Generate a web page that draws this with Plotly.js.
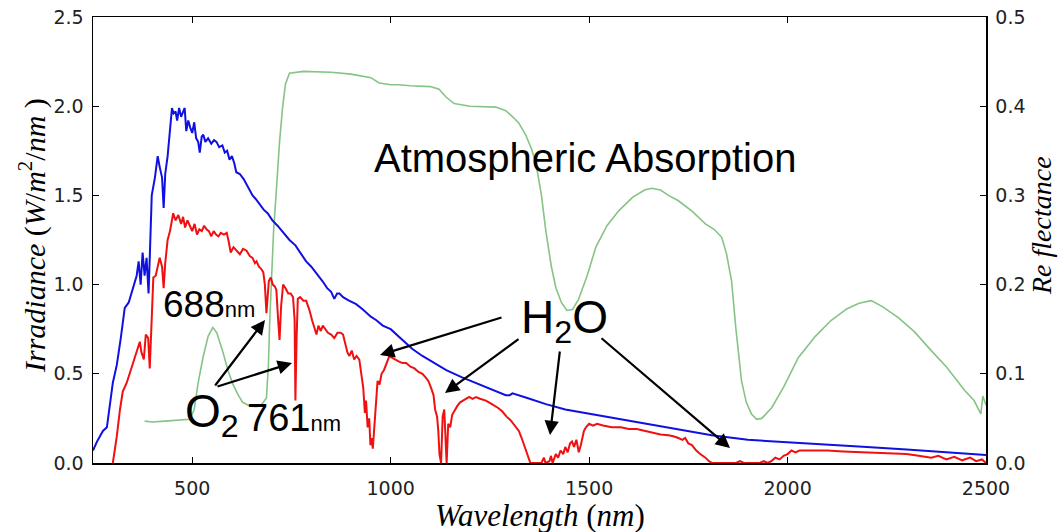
<!DOCTYPE html>
<html>
<head>
<meta charset="utf-8">
<script src="https://cdn.plot.ly/plotly-3.0.1.min.js"></script>
<style>html,body{margin:0;padding:0;background:#fff;}#chart{width:1064px;height:532px;}</style>
</head>
<body>
<div id="chart"></div>
<script>
// ---- Top-of-atmosphere irradiance (blue) ----
const WL_TOA = [250,260,275,285,300,310,320,330,340,350,360,365,370,375,380,385,390,393,398,406,413,418,424,428,432,438,444,449,453,458,462,467,472,478,481,485,490,495,500,505,510,515,519,524,528,533,540,548,555,561,568,576,582,588,594,600,606,611,620,630,640,652,660,670,680,690,702,715,730,745,760,775,787,800,815,828,840,850,858,865,871,880,895,913,930,950,964,980,1000,1030,1054,1080,1110,1140,1180,1223,1260,1290,1300,1307,1350,1391,1440,1492,1560,1643,1720,1809,1900,1977,2050,2110,2200,2300,2400,2500];
const IRR_TOA = [0.07,0.12,0.18,0.20,0.45,0.55,0.70,0.87,0.90,0.98,1.05,1.13,1.00,1.18,1.05,1.15,0.95,1.15,1.50,1.60,1.72,1.66,1.60,1.43,1.62,1.72,1.85,1.99,1.96,1.97,1.92,1.99,1.94,1.97,1.99,1.86,1.92,1.88,1.85,1.91,1.82,1.80,1.74,1.83,1.84,1.80,1.82,1.79,1.81,1.80,1.77,1.78,1.74,1.75,1.70,1.72,1.68,1.63,1.62,1.59,1.55,1.50,1.48,1.45,1.42,1.40,1.36,1.33,1.29,1.25,1.22,1.17,1.13,1.10,1.06,1.02,0.98,0.96,0.92,0.95,0.95,0.93,0.91,0.89,0.86,0.82,0.80,0.77,0.75,0.69,0.64,0.60,0.56,0.52,0.48,0.44,0.41,0.38,0.38,0.39,0.36,0.33,0.30,0.28,0.25,0.22,0.19,0.155,0.13,0.12,0.11,0.105,0.09,0.075,0.06,0.045];

// ---- Surface irradiance (red) ----
const WL_SURF = [300,310,318,325,335,350,360,368,372,378,383,389,393,398,402,408,413,418,424,428,432,438,444,452,458,465,472,477,482,488,494,500,506,512,518,524,530,536,542,548,554,560,566,572,580,587,592,597,604,612,620,628,637,645,652,658,662,668,673,679,683,687,690,693,698,703,708,712,716,720,724,729,735,742,748,754,758,760,763,766,772,780,787,795,802,808,813,818,824,829,835,842,850,858,866,874,880,886,891,896,902,908,914,921,926,931,935,938,942,946,949,952,955,959,963,967,972,977,983,988,992,997,1003,1010,1020,1030,1039,1050,1060,1070,1080,1088,1095,1102,1108,1112,1117,1120,1123,1127,1131,1135,1138,1141,1145,1150,1155,1162,1168,1175,1182,1190,1198,1206,1215,1225,1240,1255,1270,1281,1292,1302,1312,1323,1330,1336,1340,1346,1352,1360,1380,1386,1390,1400,1404,1408,1416,1422,1428,1435,1440,1446,1452,1457,1462,1468,1474,1479,1483,1487,1492,1500,1510,1520,1535,1557,1580,1600,1620,1641,1660,1680,1700,1712,1725,1735,1742,1750,1759,1770,1780,1793,1802,1810,1850,1870,1880,1890,1930,1940,1950,1959,1969,1980,1990,2000,2010,2020,2030,2050,2070,2100,2140,2195,2250,2300,2330,2362,2380,2400,2420,2440,2460,2475,2490,2500];
const IRR_SURF = [0.00,0.15,0.30,0.40,0.45,0.55,0.62,0.68,0.62,0.58,0.72,0.70,0.53,0.85,1.04,1.05,1.10,1.15,1.10,0.98,1.12,1.25,1.30,1.40,1.36,1.39,1.34,1.38,1.32,1.36,1.33,1.30,1.34,1.28,1.31,1.30,1.33,1.31,1.30,1.27,1.30,1.28,1.27,1.29,1.28,1.29,1.24,1.18,1.21,1.19,1.17,1.20,1.19,1.16,1.15,1.12,1.13,1.10,1.09,1.07,1.00,0.84,0.95,1.02,1.04,1.00,0.99,0.97,0.82,0.69,0.88,1.00,0.98,0.95,0.95,0.93,0.80,0.35,0.70,0.92,0.93,0.91,0.91,0.86,0.80,0.76,0.72,0.77,0.74,0.77,0.75,0.73,0.72,0.70,0.73,0.73,0.72,0.67,0.62,0.60,0.63,0.58,0.60,0.58,0.50,0.42,0.28,0.35,0.20,0.25,0.10,0.14,0.08,0.22,0.35,0.46,0.44,0.50,0.52,0.55,0.57,0.60,0.59,0.58,0.57,0.56,0.56,0.54,0.53,0.51,0.50,0.48,0.46,0.42,0.38,0.30,0.26,0.18,0.05,0.00,0.26,0.30,0.10,0.00,0.22,0.20,0.27,0.30,0.32,0.34,0.35,0.36,0.37,0.36,0.37,0.36,0.35,0.33,0.31,0.29,0.26,0.24,0.21,0.18,0.14,0.10,0.08,0.04,0.00,0.00,0.00,0.03,0.00,0.01,0.04,0.00,0.05,0.03,0.07,0.05,0.09,0.06,0.11,0.12,0.09,0.13,0.06,0.10,0.14,0.18,0.20,0.22,0.21,0.22,0.21,0.20,0.20,0.19,0.19,0.18,0.17,0.16,0.155,0.15,0.14,0.13,0.14,0.11,0.10,0.07,0.05,0.03,0.01,0.00,0.00,0.00,0.01,0.00,0.00,0.01,0.00,0.01,0.03,0.02,0.04,0.05,0.07,0.06,0.07,0.07,0.07,0.07,0.065,0.06,0.055,0.05,0.04,0.03,0.04,0.02,0.035,0.015,0.03,0.01,0.02,0.00];

// ---- Reflectance (green) ----
const WL_REFL = [380,400,430,460,494,505,515,527,540,552,562,577,590,602,615,627,645,660,672,687,692,695,700,705,712,720,728,735,745,780,850,900,950,971,1000,1020,1050,1100,1122,1140,1160,1200,1265,1290,1310,1323,1340,1355,1366,1380,1391,1405,1416,1430,1444,1458,1473,1495,1517,1545,1575,1610,1640,1657,1680,1700,1725,1760,1793,1815,1834,1846,1859,1870,1884,1896,1909,1922,1935,1960,1990,2027,2070,2110,2150,2180,2211,2240,2279,2320,2362,2400,2447,2470,2487,2492,2500];
const REFL = [0.047,0.046,0.047,0.048,0.049,0.060,0.090,0.118,0.142,0.152,0.146,0.125,0.104,0.089,0.077,0.068,0.064,0.063,0.064,0.073,0.110,0.156,0.210,0.260,0.306,0.360,0.400,0.425,0.437,0.439,0.438,0.436,0.432,0.426,0.424,0.424,0.423,0.422,0.419,0.410,0.403,0.400,0.399,0.395,0.387,0.381,0.368,0.352,0.336,0.300,0.260,0.220,0.197,0.180,0.171,0.172,0.183,0.210,0.242,0.266,0.283,0.298,0.306,0.308,0.306,0.300,0.294,0.282,0.268,0.262,0.253,0.235,0.204,0.150,0.092,0.068,0.055,0.049,0.050,0.062,0.085,0.118,0.142,0.160,0.173,0.179,0.182,0.175,0.163,0.147,0.126,0.108,0.081,0.070,0.055,0.075,0.065];

const X_TICKS = [500,1000,1500,2000,2500];
const Y_TICKS = [0,0.5,1.0,1.5,2.0,2.5];
const R_TICKS = [0,0.1,0.2,0.3,0.4,0.5];

// plot-area geometry (pixels) used to place annotations
const L = 93, R = 986, T = 17, B = 463;
const XR = [250, 2500], YR = [0, 2.5];
const px2x = p => XR[0] + (p - L) / (R - L) * (XR[1] - XR[0]);
const px2y = p => YR[0] + (B - p) / (B - T) * (YR[1] - YR[0]);
const pxX = p => (p - L) / (R - L);
const pxY = p => (B - p) / (B - T);

const traces = [
  {x: WL_REFL, y: REFL, type: 'scatter', mode: 'lines', yaxis: 'y',
   line: {color: '#86c386', width: 1.6}, hoverinfo: 'skip'},
  {x: WL_TOA, y: IRR_TOA, type: 'scatter', mode: 'lines', yaxis: 'y2',
   line: {color: '#1010e0', width: 2}, hoverinfo: 'skip'},
  {x: WL_SURF, y: IRR_SURF, type: 'scatter', mode: 'lines', yaxis: 'y2',
   line: {color: '#f01010', width: 2}, hoverinfo: 'skip'}
];

const arrows = [
  [214, 387, 265, 320],
  [216, 387, 292, 363],
  [503, 317, 380, 355],
  [520, 338, 445, 393],
  [560, 350, 550, 435],
  [600, 337, 730, 448]
];

const ann = [];
arrows.forEach(a => {
  ann.push({xref: 'x', yref: 'y2', x: px2x(a[2]), y: px2y(a[3]),
    axref: 'pixel', ayref: 'pixel', ax: a[0] - a[2], ay: a[1] - a[3],
    text: '', showarrow: true, arrowhead: 2, arrowsize: 1.3, arrowwidth: 2.2,
    arrowcolor: '#000', standoff: 0, startstandoff: 0});
});

const sans = 'Liberation Sans, Arial, sans-serif';
function label(txt, px, py, size, anchor) {
  ann.push({xref: 'paper', yref: 'paper', x: pxX(px), y: pxY(py), text: txt,
    showarrow: false, xanchor: anchor || 'left', yanchor: 'middle',
    font: {family: sans, size: size, color: '#000'}});
}
label('Atmospheric Absorption', 585, 158, 40, 'center');
label('H<sub>2</sub>O', 519, 320, 46);
label('O<sub>2</sub>', 183, 414, 46);
label('761<span style="font-size:22px">nm</span>', 245, 418, 38);
label('688<span style="font-size:22px">nm</span>', 161, 304, 37);

const serif = 'Liberation Serif, Times New Roman, serif';
ann.push({xref: 'paper', yref: 'paper', x: pxX(540), y: pxY(515), text: '<i>Wavelength</i> (<i>nm</i>)',
  showarrow: false, xanchor: 'center', yanchor: 'middle', font: {family: serif, size: 31, color: '#000'}});
ann.push({xref: 'paper', yref: 'paper', x: pxX(32), y: pxY(236), textangle: -90,
  text: '<i>Irradiance</i> (<i>W</i>/<i>m</i><sup>2</sup>/<i>nm</i> )',
  showarrow: false, xanchor: 'center', yanchor: 'middle', font: {family: serif, size: 30, color: '#000'}});
ann.push({xref: 'paper', yref: 'paper', x: pxX(1041), y: pxY(226), textangle: -90,
  text: '<i>Re flectance</i>',
  showarrow: false, xanchor: 'center', yanchor: 'middle', font: {family: serif, size: 28, color: '#000'}});

const tickFont = {family: 'DejaVu Sans, sans-serif', size: 19, color: '#222'};
const layout = {
  width: 1064, height: 532,
  margin: {l: L, r: 1064 - R, t: T, b: 532 - B, pad: 0},
  paper_bgcolor: '#fff', plot_bgcolor: '#fff',
  showlegend: false,
  xaxis: {range: XR, tickvals: X_TICKS, ticktext: X_TICKS.map(String), ticks: 'inside', ticklen: 6,
    tickcolor: '#000', showline: true, linecolor: '#000', linewidth: 1.5, mirror: 'ticks',
    showgrid: false, zeroline: false, tickfont: tickFont, ticklabelstandoff: 8},
  yaxis: {range: [0, 0.5], tickvals: R_TICKS, ticktext: R_TICKS.map(v => v.toFixed(1)), side: 'right',
    ticks: 'inside', ticklen: 6, tickcolor: '#000', showline: true, linecolor: '#000', linewidth: 1.5,
    showgrid: false, zeroline: false, tickfont: tickFont, ticklabelstandoff: 4},
  yaxis2: {range: YR, tickvals: Y_TICKS, ticktext: Y_TICKS.map(v => v.toFixed(1)), side: 'left',
    overlaying: 'y', ticks: 'inside', ticklen: 6, tickcolor: '#000', showline: true, linecolor: '#000',
    linewidth: 1.5, showgrid: false, zeroline: false, tickfont: tickFont, ticklabelstandoff: 4},
  annotations: ann
};

Plotly.newPlot('chart', traces, layout, {staticPlot: true, displayModeBar: false});
</script>
</body>
</html>
